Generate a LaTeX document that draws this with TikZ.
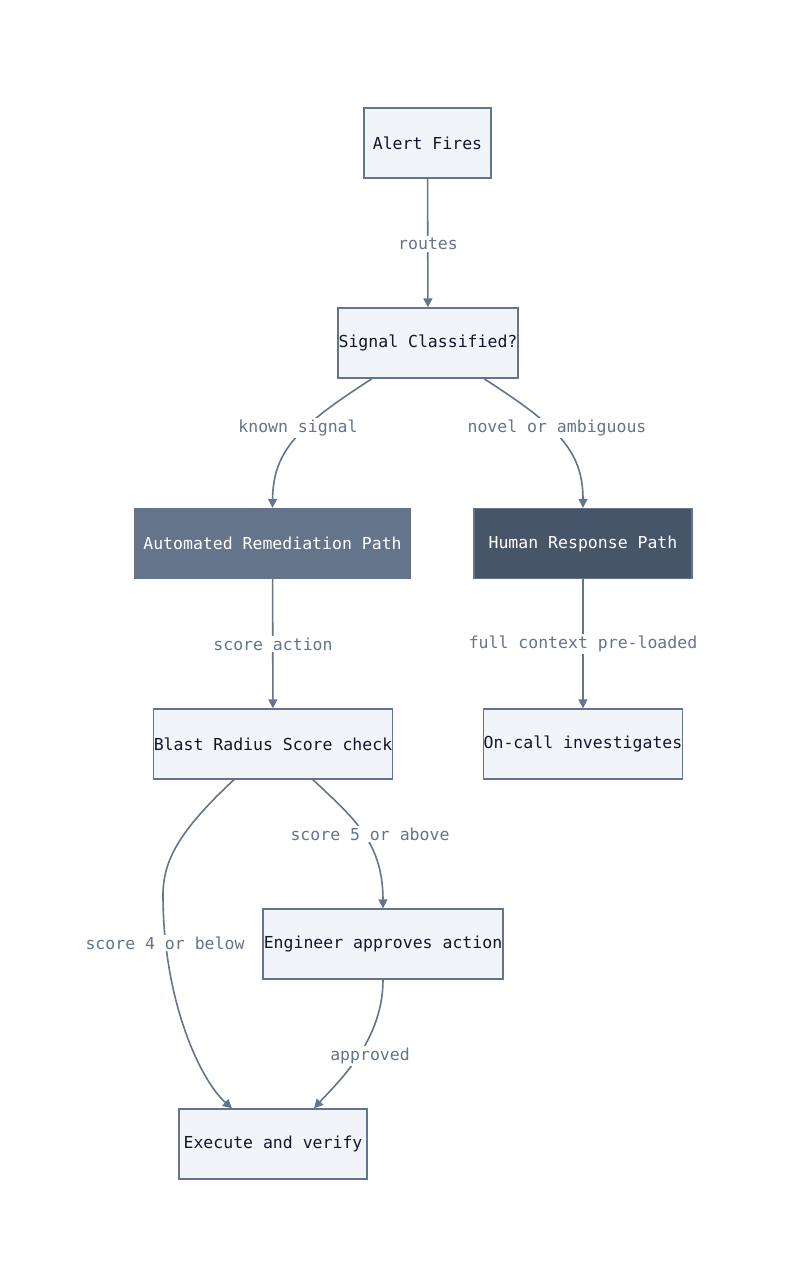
\documentclass[tikz,border=0pt]{standalone}
\usepackage{fontspec}
\setmonofont{DejaVu Sans Mono}
\usetikzlibrary{arrows.meta,calc}
\definecolor{edge}{HTML}{64748B}
\definecolor{boxfill}{HTML}{F1F5F9}
\definecolor{dark1}{HTML}{64748B}
\definecolor{dark2}{HTML}{475569}
\definecolor{txt}{HTML}{0F172A}
\begin{document}
\begin{tikzpicture}[x=1pt,y=-1pt,
  box/.style={draw=edge,line width=1.4pt,fill=boxfill,minimum height=70pt,inner sep=0pt,font=\ttfamily\fontsize{16.5}{18}\selectfont,text=txt},
  dbox/.style={box,text=white},
  lbl/.style={fill=white,inner sep=2pt,font=\ttfamily\fontsize{16.5}{18}\selectfont,text=edge},
  conn/.style={draw=edge,line width=1.6pt,-{Triangle[length=9pt,width=9pt]}}]
\useasboundingbox (0,0) rectangle (800,1288);
\node[box,minimum width=127pt] (alert) at (427.5,143) {Alert Fires};
\node[box,minimum width=180pt] (sig) at (428,343) {Signal Classified?};
\node[dbox,fill=dark1,minimum width=275pt] (auto) at (272.5,543.5) {Automated Remediation Path};
\node[dbox,fill=dark2,minimum width=218pt] (hum) at (583,543.5) {Human Response Path};
\node[box,minimum width=234pt] (blast) at (273,744) {Blast Radius Score check};
\node[box,minimum width=198pt] (onc) at (583,744) {On-call investigates};
\node[box,minimum width=240pt] (eng) at (383,944) {Engineer approves action};
\node[box,minimum width=188pt] (exe) at (273,1144) {Execute and verify};

\draw[conn] (alert) -- (sig);
\draw[conn] ($(sig.south)+(-56,0)$) .. controls (300,425) and (273,450) .. (auto.north);
\draw[conn] ($(sig.south)+(56,0)$) .. controls (556,425) and (583,450) .. (hum.north);
\draw[conn] (auto) -- (blast);
\draw[conn] (hum) -- (onc);
\draw[conn] ($(blast.south)+(40,0)$) .. controls (350,815) and (383,840) .. (eng.north);
\draw[conn] ($(blast.south)+(-39,0)$) .. controls (180,830) and (163,860) .. (163,895) .. controls (163,1000) and (200,1080) .. ($(exe.north)+(-41,0)$);
\draw[conn] (eng.south) .. controls (383,1040) and (340,1080) .. ($(exe.north)+(41,0)$);

\node[lbl] (l1) at (428,244) {routes};
\node[lbl] (l2) at (298,428) {known signal};
\node[lbl] (l3) at (557,428) {novel or ambiguous};
\node[lbl] (l4) at (273,644) {score action};
\node[lbl] (l5) at (583,644) {full context pre-loaded};
\node[lbl] (l6) at (370,834) {score 5 or above};
\node[lbl] (l7) at (165,943) {score 4 or below};
\node[lbl] (l8) at (370,1056) {approved};
\end{tikzpicture}
\end{document}
